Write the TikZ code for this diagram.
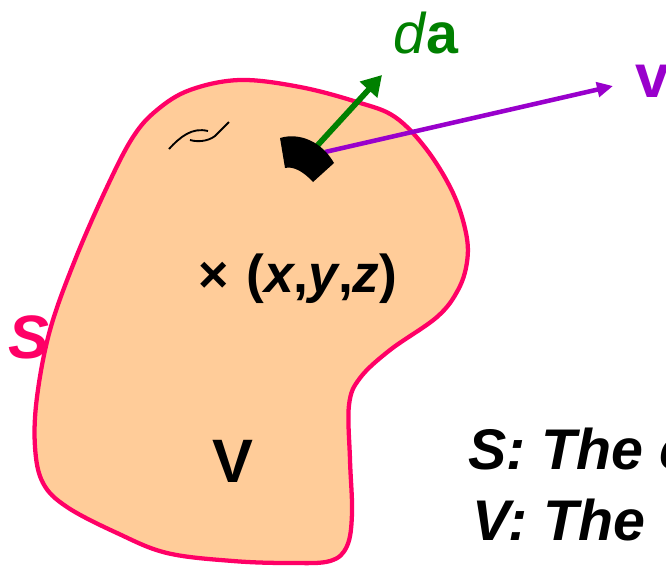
\documentclass[tikz,border=0pt]{standalone}
\usepackage{fontspec}
\setmainfont{Liberation Sans}
\usetikzlibrary{arrows.meta}
\definecolor{peach}{RGB}{255,204,153}
\definecolor{surf}{RGB}{255,0,102}
\definecolor{dagreen}{RGB}{0,128,0}
\definecolor{vpurple}{RGB}{153,0,204}
\tikzset{
  region/.style={fill=peach, draw=surf, line width=3.2pt},
  greenarrow/.style={draw=dagreen, line width=4.3pt, -{Triangle[length=15pt,width=17pt]}, dagreen},
  purplearrow/.style={draw=vpurple, line width=3.4pt, -{Triangle[length=12pt,width=11pt]}, vpurple},
  lbl/.style={inner sep=0pt, anchor=base west},
}
\begin{document}
\begin{tikzpicture}[x=0.75pt,y=-0.75pt]
\useasboundingbox (0,0) rectangle (666,569);
\clip (0,0) rectangle (666,569);
% region V bounded by surface S
\path[region] plot[smooth cycle, tension=0.6] coordinates {
 (240,80) (300,87) (357,102) (395,117) (427,150) (453,193) (466,233) (467,262)
 (458,290) (437,317) (390,350) (360,378) (349,405) (350,460) (352,513) (347,546)
 (330,561) (290,563) (233,561) (167,553) (117,533) (67,507) (43,483) (35,447)
 (37,397) (50,330) (75,260) (107,187) (133,137) (157,110) (190,90)};
% squiggle
\draw[line width=1.4pt] (169,149) .. controls (180,137) and (192,127) .. (208,131);
\draw[line width=1.4pt] (190,140) .. controls (200,143) and (212,140) .. (217,134) .. controls (222,129) and (226,125) .. (229,122);
% surface element
\coordinate (dapos) at (316,147);
\coordinate (vpos) at (325,152);
\coordinate (datip) at (382,75);
\coordinate (vtip) at (613,86);
\draw[greenarrow] (dapos) -- (datip);
\draw[purplearrow] (vpos) -- (vtip);
\fill (280,138) .. controls (300,132) and (322,142) .. (334,163) -- (313,182) .. controls (303,171) and (293,166) .. (285,168) -- cycle;
% labels
\node[lbl, text=dagreen] (dalabel) at (393,53) {\fontsize{43pt}{50pt}\selectfont\textit{d}\textbf{a}};
\node[lbl, text=vpurple] (vlabel) at (635,97) {\fontsize{46pt}{52pt}\selectfont\textbf{v}};
\node[lbl, text=surf] (slabel) at (8,358) {\fontsize{46pt}{52pt}\selectfont\textbf{\textit{S}}};
\node[lbl] (cross) at (198,292) {\fontsize{39pt}{46pt}\selectfont\textbf{×}};
\node[lbl] (point) at (246,292) {\fontsize{40pt}{46pt}\selectfont\textbf{(\textit{x},\textit{y},\textit{z})}};
\node[lbl] (vollabel) at (212,482) {\fontsize{46pt}{52pt}\selectfont\textbf{V}};
\node[lbl] (sdef) at (468,469) {\fontsize{43pt}{50pt}\selectfont\textbf{\textit{S: The c}}};
\node[lbl] (vdef) at (472,540) {\fontsize{43pt}{50pt}\selectfont\textbf{\textit{V: The}}};
\end{tikzpicture}
\end{document}
